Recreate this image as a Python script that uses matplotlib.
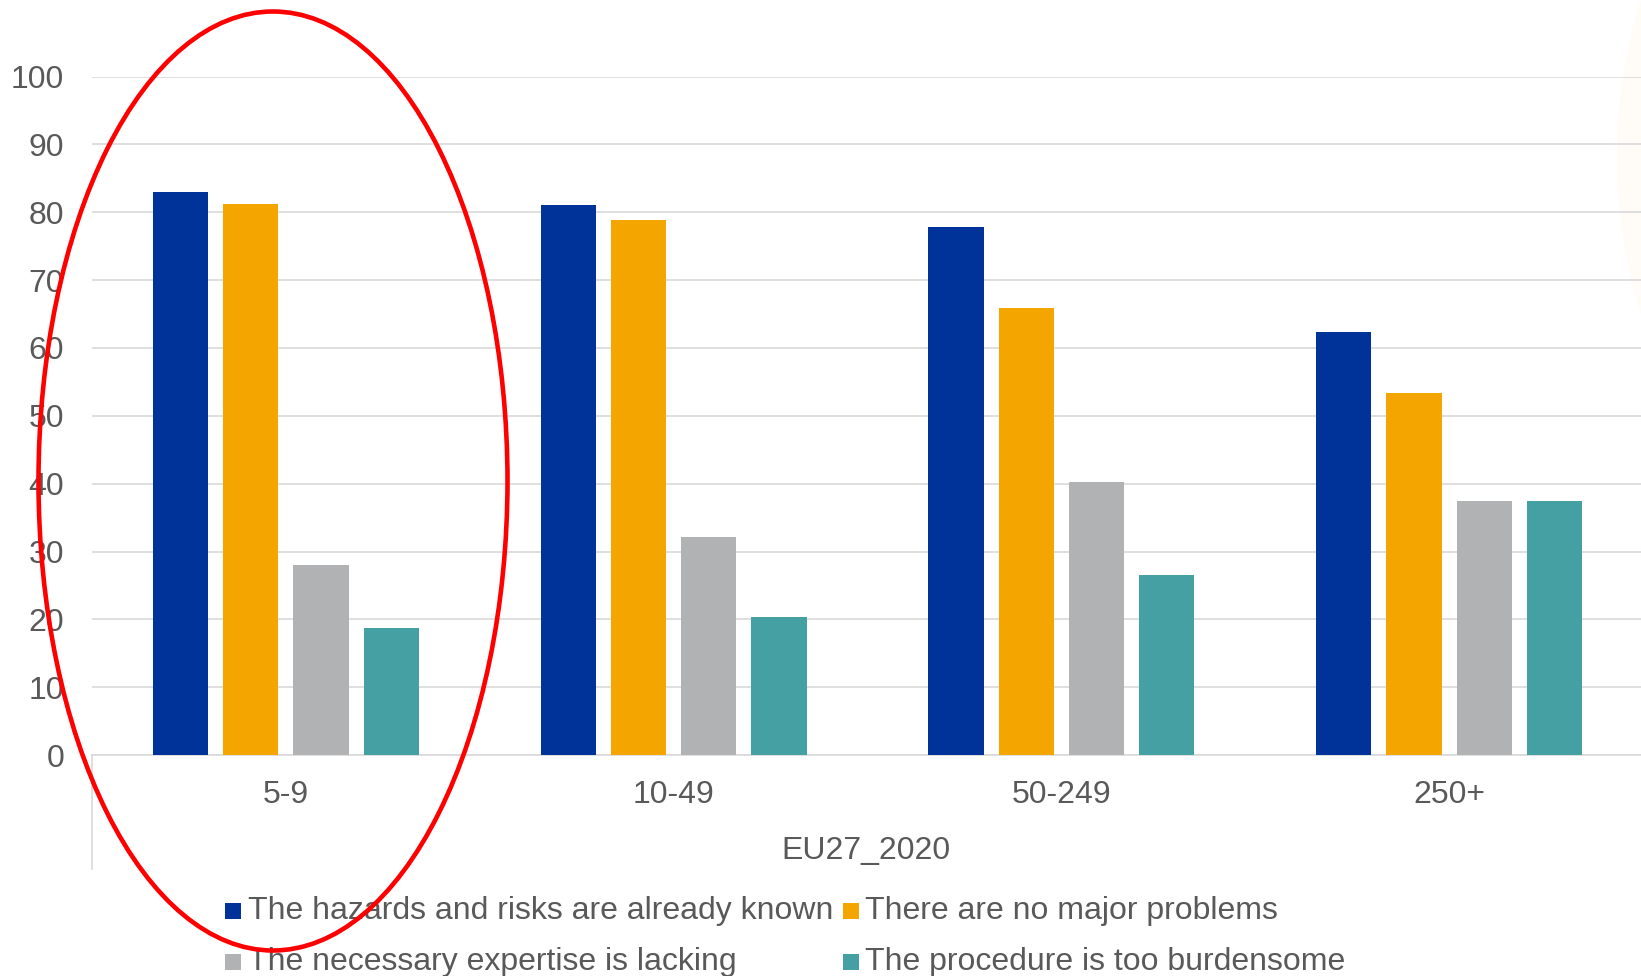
import matplotlib
matplotlib.use("Agg")
import matplotlib.pyplot as plt
from matplotlib.patches import Ellipse, Rectangle
from matplotlib.lines import Line2D
import numpy as np

plt.rcParams['font.family'] = ['Liberation Sans', 'DejaVu Sans']

categories = ["5-9", "10-49", "50-249", "250+"]
series_names = [
    "The hazards and risks are already known",
    "There are no major problems",
    "The necessary expertise is lacking",
    "The procedure is too burdensome",
]
hazards_known = [83.0, 81.0, 77.8, 62.4]
no_major_problems = [81.2, 78.9, 65.9, 53.3]
expertise_lacking = [28.0, 32.2, 40.2, 37.4]
too_burdensome = [18.7, 20.3, 26.6, 37.4]
series_values = [hazards_known, no_major_problems, expertise_lacking, too_burdensome]
colors = ["#003399", "#F5A500", "#B1B2B4", "#44A0A2"]
yticks = [0, 10, 20, 30, 40, 50, 60, 70, 80, 90, 100]
group_label = "EU27_2020"

FS = 23
TXT = "#595959"

W, H = 1641, 976
fig = plt.figure(figsize=(W / 100, H / 100), dpi=100)
fig.patch.set_facecolor("white")

# faint background shape at the top right
fig.add_artist(Ellipse(((1617 + 200) / W, 1 - 157 / H), 400 / W, 660 / H,
                       transform=fig.transFigure, fc="#fffcf7", ec="none", zorder=-5))

ax_left = 92 / W
ax_bottom = 1 - 755.2 / H
ax_top = 1 - 76.5 / H
ax = fig.add_axes([ax_left, ax_bottom, (1643 - 92) / W, ax_top - ax_bottom])
ax.patch.set_visible(False)

x = np.arange(len(categories))
pitch = 0.1813
width = 0.1426
for i, (vals, c) in enumerate(zip(series_values, colors)):
    ax.bar(x + (i - 1.5) * pitch, vals, width=width, color=c, zorder=3,
           label=series_names[i])

ax.set_xlim(-0.5, len(categories) - 0.5)
ax.set_ylim(0, 100)
ax.set_yticks(yticks)
ax.yaxis.grid(True, color="#d9d9d9", linewidth=1.2, zorder=0)
ax.set_axisbelow(True)
for s in ["top", "right", "left"]:
    ax.spines[s].set_visible(False)
ax.spines["bottom"].set_color("#d9d9d9")
ax.spines["bottom"].set_linewidth(1.2)
ax.tick_params(axis="y", length=0, pad=20, labelsize=FS, labelcolor=TXT)
ax.set_xticks(x)
ax.set_xticklabels(categories)
ax.tick_params(axis="x", length=0, pad=18, labelsize=FS, labelcolor=TXT)

# vertical extension of category axis
fig.add_artist(Line2D([ax_left, ax_left], [ax_bottom, 1 - 869 / H],
                      transform=fig.transFigure, color="#d9d9d9", lw=1.2))

fig.text(866 / W, 1 - 851 / H, group_label, ha="center", va="center",
         fontsize=FS, color=TXT)

# legend (two columns)
leg_pos = [(225, 911), (842.5, 911), (225, 962), (842.5, 962)]
for (px, py), name, c in zip(leg_pos, series_names, colors):
    fig.add_artist(Rectangle((px / W, 1 - (py + 8) / H), 16 / W, 16 / H,
                             transform=fig.transFigure, fc=c, ec="none"))
    fig.text((px + 23) / W, 1 - py / H, name, ha="left", va="center",
             fontsize=FS, color=TXT)

# red highlight ellipse
fig.add_artist(Ellipse((273 / W, 1 - 481 / H), 469 / W, 939 / H,
                       transform=fig.transFigure, fill=False, ec="#ff0000",
                       lw=3.3, zorder=10))

fig.savefig("out.png", dpi=100)
